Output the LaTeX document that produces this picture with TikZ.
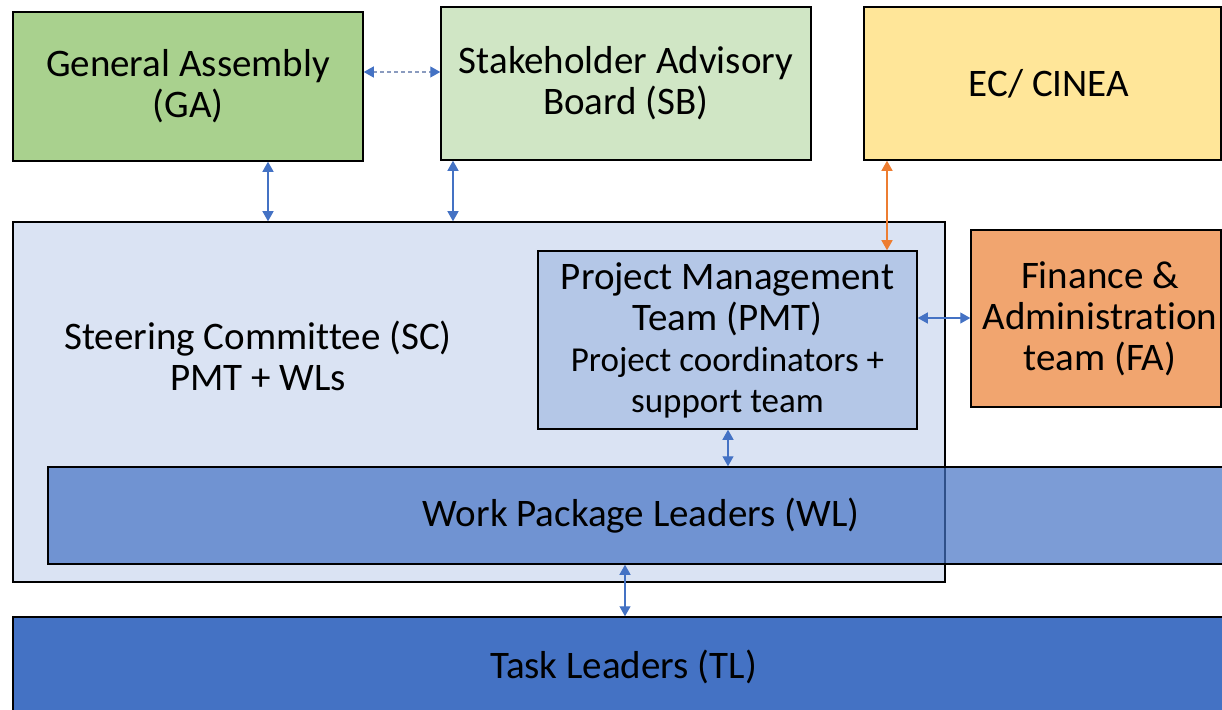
\documentclass[tikz,border=0pt]{standalone}
\usepackage{fontspec}
\setmainfont[Ligatures=NoCommon]{Carlito}
\usetikzlibrary{arrows.meta}
\definecolor{gagreen}{HTML}{A9D18E}
\definecolor{sbgreen}{HTML}{D0E6C5}
\definecolor{ecyellow}{HTML}{FFE699}
\definecolor{scblue}{HTML}{DAE3F3}
\definecolor{pmtblue}{HTML}{B4C7E7}
\definecolor{faorange}{HTML}{F1A56F}
\definecolor{darkblue}{HTML}{4472C4}
\definecolor{arrblue}{HTML}{4472C4}
\definecolor{dashgray}{HTML}{8A9BBF}
\definecolor{orangearr}{HTML}{ED7D31}
\begin{document}
\begin{tikzpicture}[x=1bp,y=-1bp,
  box/.style={draw=black,line width=1.5bp,rectangle,inner sep=0pt,align=center,
    font=\fontsize{39bp}{41bp}\selectfont},
  biarr/.style={draw=arrblue,line width=1.3bp,{Triangle[width=11bp,length=10bp]}-{Triangle[width=11bp,length=10bp]}},
  dasharr/.style={draw=dashgray,line width=1.3bp,dash pattern=on 4bp off 3bp,
    {Triangle[width=11bp,length=10bp,color=arrblue]}-{Triangle[width=11bp,length=10bp,color=arrblue]}},
  orarr/.style={draw=orangearr,line width=1.3bp,{Triangle[width=11bp,length=10bp]}-{Triangle[width=11bp,length=10bp]}}
]
\useasboundingbox (0,0) rectangle (1222,710);
% top row
\node[box,fill=gagreen,minimum width=350bp,minimum height=149bp] (GA) at (188,86.5) {General Assembly\\(GA)};
\node[box,fill=sbgreen,minimum width=370bp,minimum height=153bp] (SB) at (626,83.5) {Stakeholder Advisory\\Board (SB)};
\node[box,fill=ecyellow,minimum width=357bp,minimum height=153bp] (EC) at (1042.5,83.5) {\hspace*{13bp}EC/ CINEA};
% steering committee
\node[box,fill=scblue,minimum width=932bp,minimum height=360bp] (SC) at (479,402) {};
\node[align=center,font=\fontsize{39bp}{41bp}\selectfont] (SCt) at (258,356) {Steering Committee (SC)\\PMT + WLs};
\node[box,fill=pmtblue,minimum width=379bp,minimum height=178bp] (PMT) at (727.5,340)
  {Project Management\\Team (PMT)\\{\fontsize{35bp}{39bp}\selectfont Project coordinators +}\\{\fontsize{35bp}{39bp}\selectfont support team}};
\node[box,fill=faorange,minimum width=250bp,minimum height=177bp] (FA) at (1096,318.5) {\hspace*{8bp}Finance \&\\\hspace*{8bp}Administration\\\hspace*{8bp}team (FA)};
% work package leaders (translucent)
\node[box,fill=darkblue,fill opacity=0.7,text opacity=1,minimum width=1186bp,minimum height=97bp] (WL) at (641,515.5) {Work Package Leaders (WL)};
\node[box,fill=darkblue,minimum width=1221bp,minimum height=100bp] (TL) at (623.5,667) {Task Leaders (TL)};
% connectors
\draw[dasharr] (GA.east |- 0,72) -- (SB.west |- 0,72);
\draw[biarr] (268,0 |- GA.south) -- (268,0 |- SC.north);
\draw[biarr] (453,0 |- SB.south) -- (453,0 |- SC.north);
\draw[orarr] (887,0 |- EC.south) -- (887,0 |- PMT.north);
\draw[biarr] (PMT.east |- 0,318) -- (FA.west |- 0,318);
\draw[biarr] (728,0 |- PMT.south) -- (728,0 |- WL.north);
\draw[biarr] (625,0 |- WL.south) -- (625,0 |- TL.north);
\end{tikzpicture}
\end{document}
